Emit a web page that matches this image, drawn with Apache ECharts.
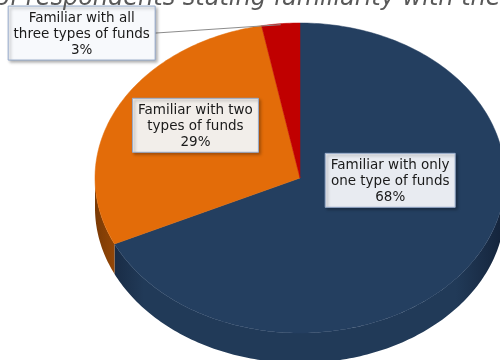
<!DOCTYPE html>
<html>
<head>
<meta charset="utf-8">
<script src="https://cdn.jsdelivr.net/npm/echarts@6/dist/echarts.min.js"></script>
<style>
  html, body { margin: 0; padding: 0; background: #ffffff; }
  #chart { width: 500px; height: 360px; }
</style>
</head>
<body>
<div id="chart"></div>
<script>
// Survey answers: how many fund types respondents are familiar with
const categories = [
  'Familiar with only\none type of funds',
  'Familiar with two\ntypes of funds',
  'Familiar with all\nthree types of funds'
];
const shares = [68, 29, 3];
const titleText = 'of respondents stating familiarity with the';

// Drawing style (kept separate from the data)
const sliceColors = ['#243f60', '#e36c09', '#c00000'];
const sideColors = [['#14233a', '#213a58', '#14233a'], ['#7a3a05', '#b85808', '#7a3a05'], ['#6a0000', '#a00000', '#6a0000']];
const labelFills = ['#e8ebf1', '#f2eeea', '#f7f9fc'];
// Tilted pie geometry
const pie = { cx: 300, cy: 178, rx: 205, ry: 155, depth: 30 };
// Label centres, as fractions of the two radii from the pie centre
const labelOffsets = [[0.44, 0.015], [-0.51, -0.34], [-1.065, -0.935]];
const labelBoxWidths = [130, 126, 147];

const total = shares.reduce((s, v) => s + v, 0);
const startAngles = [];
shares.reduce((acc, v, i) => { startAngles[i] = acc; return acc + v / total * 360; }, 0);

function pt(deg, dy) {
  const r = deg * Math.PI / 180;
  return [pie.cx + pie.rx * Math.sin(r), pie.cy - pie.ry * Math.cos(r) + (dy || 0)];
}

function arc(a0, a1, dy) {
  const pts = [];
  const n = Math.max(2, Math.ceil(Math.abs(a1 - a0)));
  for (let k = 0; k <= n; k++) pts.push(pt(a0 + (a1 - a0) * k / n, dy));
  return pts;
}

function renderItem(params, api) {
  const i = params.dataIndex;
  const a0 = startAngles[i];
  const a1 = a0 + api.value(1) / total * 360;
  const children = [];

  // front wall: only the part of the slice facing the viewer (90..270 deg)
  const s0 = Math.max(a0, 90), s1 = Math.min(a1, 270);
  if (s1 > s0) {
    const top = arc(s0, s1, 0);
    const bottom = arc(s1, s0, pie.depth);
    const sc = sideColors[i];
    children.push({
      type: 'polygon',
      shape: { points: top.concat(bottom) },
      style: {
        fill: {
          type: 'linear', global: true,
          x: pie.cx - pie.rx, y: 0, x2: pie.cx + pie.rx, y2: 0,
          colorStops: [
            { offset: 0, color: sc[0] },
            { offset: 0.12, color: sc[1] },
            { offset: 0.88, color: sc[1] },
            { offset: 1, color: sc[2] }
          ]
        },
        stroke: null
      },
      z2: 1
    });
  }

  // top face
  children.push({
    type: 'polygon',
    shape: { points: [[pie.cx, pie.cy]].concat(arc(a0, a1, 0)) },
    style: { fill: sliceColors[i], stroke: sliceColors[i], lineWidth: 0.5 },
    z2: 2
  });

  // label box
  const off = labelOffsets[i];
  const lx = pie.cx + off[0] * pie.rx;
  const ly = pie.cy + off[1] * pie.ry;
  const pct = Math.round(api.value(1) / total * 100) + '%';
  const text = categories[i] + '\n' + pct;
  const boxW = labelBoxWidths[i];
  const boxH = 54;

  // leader line for the small slice whose label sits outside
  if (i === 2) {
    const mid = pt((a0 + a1) / 2, 0);
    children.push({
      type: 'line',
      shape: { x1: lx + boxW / 2, y1: ly, x2: mid[0], y2: mid[1] + 1 },
      style: { stroke: '#8c8c8c', lineWidth: 1 },
      z2: 3
    });
  }

  children.push({
    type: 'rect',
    shape: { x: lx - boxW / 2, y: ly - boxH / 2, width: boxW, height: boxH },
    style: {
      fill: labelFills[i], stroke: '#95aacb', lineWidth: 1,
      shadowBlur: 3, shadowOffsetX: 2, shadowOffsetY: 2, shadowColor: 'rgba(0,0,0,0.35)'
    },
    z2: 4
  });
  children.push({
    type: 'text',
    x: lx, y: ly + 1,
    style: {
      text: text,
      font: '13.5px "DejaVu Sans", Verdana, sans-serif',
      fill: '#1a1a1a',
      align: 'center', verticalAlign: 'middle',
      lineHeight: 16
    },
    z2: 5
  });

  return { type: 'group', children: children };
}

const chart = echarts.init(document.getElementById('chart'), null, { renderer: 'canvas' });
chart.setOption({
  animation: false,
  backgroundColor: '#ffffff',
  title: {
    text: titleText,
    left: -5, top: -13, padding: 0,
    textStyle: {
      fontFamily: '"DejaVu Sans", Verdana, sans-serif',
      fontSize: 24, fontStyle: 'italic', fontWeight: 'normal', color: '#595959'
    }
  },
  series: [{
    type: 'custom',
    coordinateSystem: 'none',
    renderItem: renderItem,
    data: shares.map((v, i) => [i, v])
  }]
});
</script>
</body>
</html>
